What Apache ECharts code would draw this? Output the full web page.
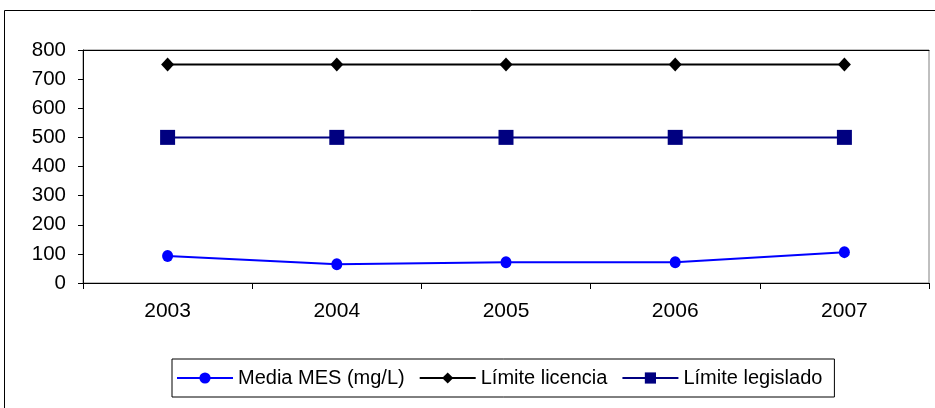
<!DOCTYPE html>
<html>
<head>
<meta charset="utf-8">
<script src="https://cdn.jsdelivr.net/npm/echarts@6/dist/echarts.min.js"></script>
<style>
html,body{margin:0;padding:0;background:#fff;}
#c{width:935px;height:408px;}
</style>
</head>
<body>
<div id="c"></div>
<script>
var categories = ['2003', '2004', '2005', '2006', '2007'];
var mediaMES = [93, 64, 71, 71, 106];
var limiteLicencia = [750, 750, 750, 750, 750];
var limiteLegislado = [500, 500, 500, 500, 500];
var seriesNames = ['Media MES (mg/L)', 'Límite licencia', 'Límite legislado'];

var chart = echarts.init(document.getElementById('c'));
var font = 'Liberation Sans, Arial, sans-serif';
chart.setOption({
  animation: false,
  backgroundColor: '#fff',
  graphic: [{
    type: 'rect',
    shape: { x: 4.5, y: 10.5, width: 1000, height: 500 },
    style: { fill: 'none', stroke: '#000', lineWidth: 1 },
    silent: true
  }],
  grid: {
    left: 83, right: 6, top: 50, bottom: 125,
    show: true, borderColor: '#808080', borderWidth: 1, backgroundColor: 'transparent'
  },
  legend: {
    left: 172, top: 359,
    padding: [9, 12, 9, 4],
    borderColor: '#000', borderWidth: 1,
    itemWidth: 56, itemHeight: 14, itemGap: 14,
    textStyle: { fontFamily: font, fontSize: 20, color: '#000' },
    data: seriesNames
  },
  xAxis: [{
    type: 'category',
    data: categories,
    boundaryGap: true,
    axisLine: { lineStyle: { color: '#000', width: 1 } },
    axisTick: { show: true, length: 6, inside: false, lineStyle: { color: '#000' } },
    axisLabel: { fontFamily: font, fontSize: 21, color: '#000', margin: 18 },
    splitLine: { show: false }
  }, {
    type: 'category',
    data: categories,
    position: 'top',
    boundaryGap: true,
    axisLine: { show: true, lineStyle: { color: '#000', width: 1 } },
    axisTick: { show: false },
    axisLabel: { show: false },
    splitLine: { show: false }
  }],
  yAxis: {
    type: 'value',
    min: 0, max: 800, interval: 100,
    axisLine: { show: true, lineStyle: { color: '#000', width: 1 } },
    axisTick: { show: true, length: 5, lineStyle: { color: '#000' } },
    axisLabel: { fontFamily: font, fontSize: 20.5, color: '#000', margin: 17 },
    splitLine: { show: false }
  },
  series: [{
    name: seriesNames[0],
    type: 'line',
    data: mediaMES,
    symbol: 'circle',
    symbolSize: [11, 12],
    lineStyle: { color: '#0000FF', width: 2 },
    itemStyle: { color: '#0000FF' }
  }, {
    name: seriesNames[1],
    type: 'line',
    data: limiteLicencia,
    symbol: 'diamond',
    symbolSize: [13, 14],
    lineStyle: { color: '#000', width: 2 },
    itemStyle: { color: '#000' }
  }, {
    name: seriesNames[2],
    type: 'line',
    data: limiteLegislado,
    symbol: 'rect',
    symbolSize: 15,
    lineStyle: { color: '#000080', width: 2 },
    itemStyle: { color: '#000080' }
  }]
});
</script>
</body>
</html>
